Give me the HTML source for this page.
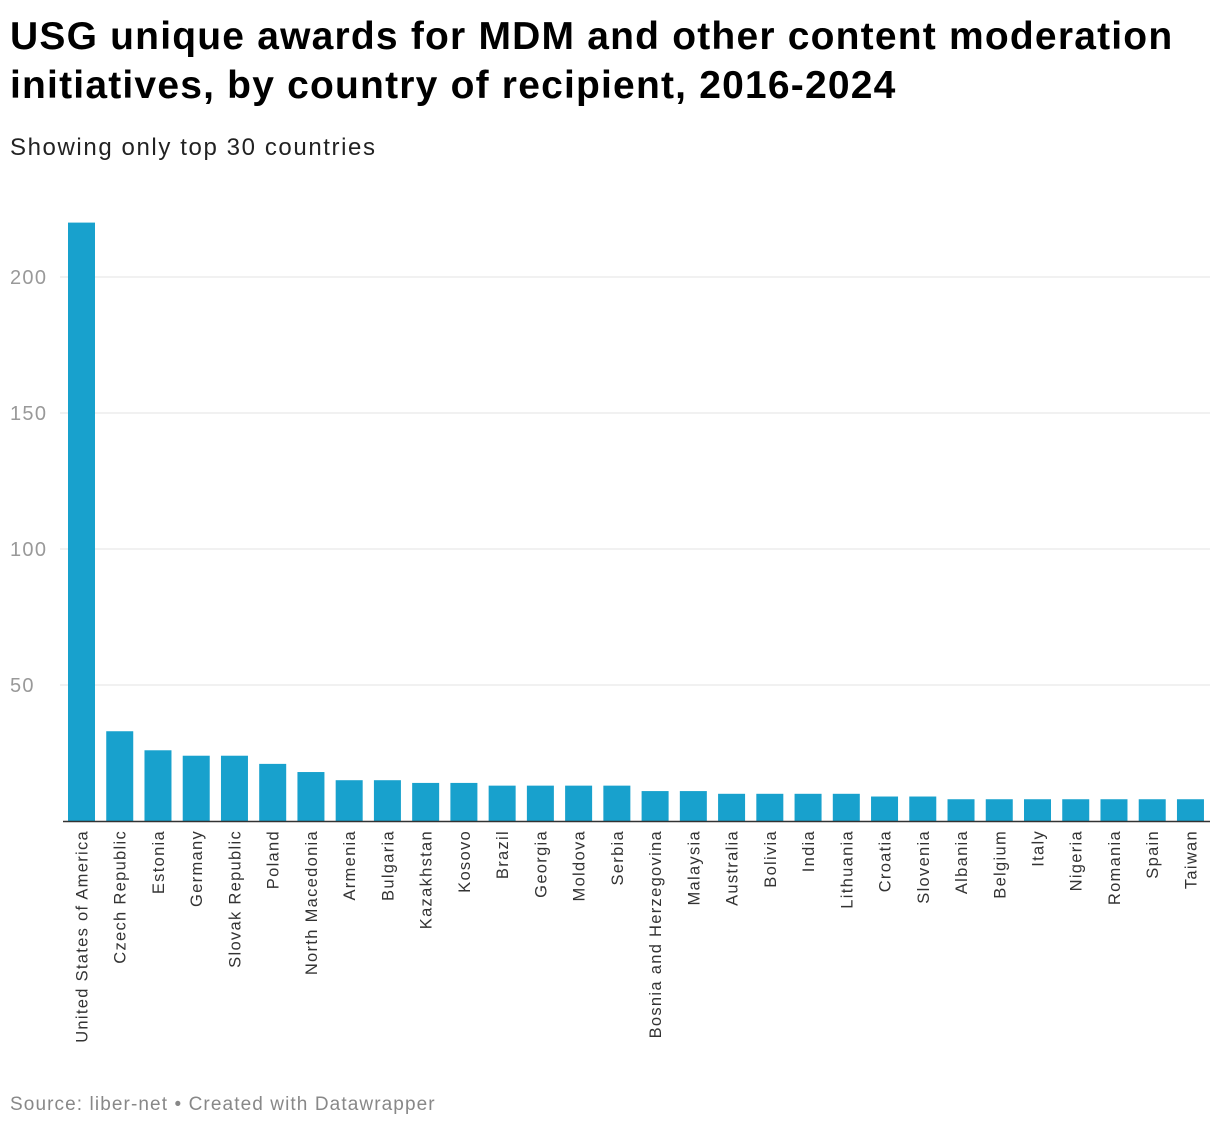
<!DOCTYPE html>
<html><head><meta charset="utf-8">
<style>
body{margin:0;background:#fff;font-family:"Liberation Sans",Arial,sans-serif;}
#wrap{position:relative;width:1220px;height:1128px;overflow:hidden;}
h1{position:absolute;left:10px;top:12px;margin:0;font-size:39px;line-height:49px;font-weight:bold;color:#000;letter-spacing:1.2px;white-space:nowrap;}
.sub{position:absolute;left:10px;top:134px;font-size:24px;color:#222;letter-spacing:1.6px;}
.foot{position:absolute;left:10px;top:1094px;font-size:19px;color:#888;letter-spacing:1.1px;}
</style></head>
<body><div id="wrap">
<h1>USG unique awards for MDM and other content moderation<br>initiatives, by country of recipient, 2016-2024</h1>
<div class="sub">Showing only top 30 countries</div>
<svg id="chart" width="1220" height="1128" style="position:absolute;left:0;top:0"></svg>
<div class="foot">Source: liber-net • Created with Datawrapper</div>
</div>
<script>
const categories=["United States of America","Czech Republic","Estonia","Germany","Slovak Republic","Poland","North Macedonia","Armenia","Bulgaria","Kazakhstan","Kosovo","Brazil","Georgia","Moldova","Serbia","Bosnia and Herzegovina","Malaysia","Australia","Bolivia","India","Lithuania","Croatia","Slovenia","Albania","Belgium","Italy","Nigeria","Romania","Spain","Taiwan"];
const values=[220,33,26,24,24,21,18,15,15,14,14,13,13,13,13,11,11,10,10,10,10,9,9,8,8,8,8,8,8,8];
const ticks=[50,100,150,200];
const NS="http://www.w3.org/2000/svg";
const svg=document.getElementById('chart');
const y0=821, pxPer=2.72;
const y=v=>y0-v*pxPer;
const x=i=>68+i*38.24;
const bw=27;
function mk(t,a){const e=document.createElementNS(NS,t);for(const k in a)e.setAttribute(k,a[k]);svg.appendChild(e);return e;}
ticks.forEach(t=>{
 const l=mk('line',{x1:60,x2:1210,y1:y(t),y2:y(t),stroke:'#e3e3e3','stroke-width':1});
 
 
 const tx=mk('text',{x:10,y:y(t)+7,fill:'#999','font-size':20,'letter-spacing':1.3,'font-family':'Liberation Sans, Arial, sans-serif'});
 tx.textContent=t;
 
 
});
values.forEach((v,i)=>{
 const r=mk('rect',{x:x(i),y:y(v),width:bw,height:v*pxPer,fill:'#18a1cd'});
 
 
 const cx=x(i)+bw/2+6;
 const t=mk('text',{x:cx,y:830,transform:`rotate(-90 ${cx} 830)`,'text-anchor':'end',fill:'#333','font-size':16.5,'letter-spacing':1.3,'font-family':'Liberation Sans, Arial, sans-serif'});
 t.textContent=categories[i];
 
 
});
const b=mk('line',{x1:63,x2:1210,y1:y0+0.5,y2:y0+0.5,stroke:'#333','stroke-width':1.5});


</script>
</body></html>
